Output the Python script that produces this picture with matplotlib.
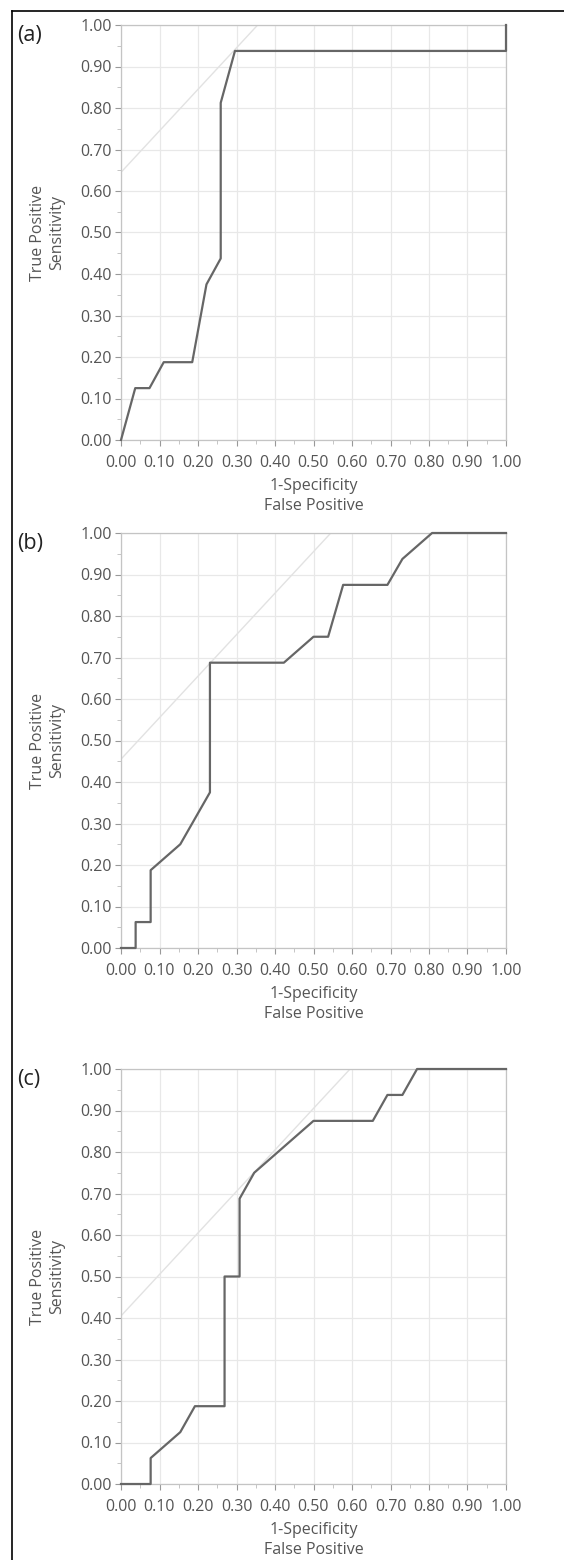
import matplotlib
matplotlib.use("Agg")
import matplotlib.pyplot as plt
from matplotlib.lines import Line2D
from matplotlib.ticker import MultipleLocator, FormatStrFormatter

plt.rcParams['font.family'] = ['Open Sans', 'DejaVu Sans']

# ROC curves (1-specificity, sensitivity)
fpr_a = [0.0, 0.037, 0.074, 0.111, 0.185, 0.222, 0.259, 0.259, 0.296, 1.0, 1.0]
tpr_a = [0.0, 0.125, 0.125, 0.1875, 0.1875, 0.375, 0.4375, 0.8125, 0.9375, 0.9375, 1.0]

fpr_b = [0.0, 0.038, 0.038, 0.077, 0.077, 0.154, 0.231, 0.231, 0.423, 0.5, 0.538,
         0.577, 0.692, 0.731, 0.808, 1.0]
tpr_b = [0.0, 0.0, 0.0625, 0.0625, 0.1875, 0.25, 0.375, 0.6875, 0.6875, 0.75, 0.75,
         0.875, 0.875, 0.9375, 1.0, 1.0]

fpr_c = [0.0, 0.077, 0.077, 0.154, 0.192, 0.269, 0.269, 0.308, 0.308, 0.346, 0.5,
         0.654, 0.692, 0.731, 0.769, 1.0]
tpr_c = [0.0, 0.0, 0.0625, 0.125, 0.1875, 0.1875, 0.5, 0.5, 0.6875, 0.75, 0.875,
         0.875, 0.9375, 0.9375, 1.0, 1.0]

# intercepts of the slope-1 tangent lines
tangent_b0 = [0.645, 0.455, 0.405]
panel_names = ['(a)', '(b)', '(c)']

curves = [(fpr_a, tpr_a), (fpr_b, tpr_b), (fpr_c, tpr_c)]

fig = plt.figure(figsize=(5.64, 15.6), dpi=100)

W, H = 564.0, 1560.0
ax_left, ax_w, ax_h = 121 / W, 385 / W, 415 / H
ax_bottoms = [(H - 440) / H, (H - 948) / H, (H - 1484) / H]

txt_col = '#555555'

for (x, y), b0, name, bottom in zip(curves, tangent_b0, panel_names, ax_bottoms):
    ax = fig.add_axes([ax_left, bottom, ax_w, ax_h])
    ax.set_xlim(0, 1)
    ax.set_ylim(0, 1)
    ax.axline((0, b0), slope=1, color='#e2e2e2', lw=1.0, zorder=1)
    ax.plot(x, y, color='#666666', lw=1.6, zorder=3, clip_on=False)

    ax.xaxis.set_major_locator(MultipleLocator(0.1))
    ax.xaxis.set_minor_locator(MultipleLocator(0.05))
    ax.yaxis.set_major_locator(MultipleLocator(0.1))
    ax.yaxis.set_minor_locator(MultipleLocator(0.05))
    ax.xaxis.set_major_formatter(FormatStrFormatter('%.2f'))
    ax.yaxis.set_major_formatter(FormatStrFormatter('%.2f'))
    ax.grid(True, which='major', color='#e8e8e8', lw=0.9)
    ax.set_axisbelow(True)

    ax.tick_params(which='major', length=4, width=0.8, color='#999999',
                   labelsize=11.5, labelcolor=txt_col)
    ax.tick_params(axis='x', which='major', pad=7)
    ax.tick_params(axis='y', which='major', pad=2.5)
    ax.tick_params(which='minor', length=3, width=0.6, color='#bbbbbb')
    for s in ax.spines.values():
        s.set_color('#c4c4c4')
        s.set_linewidth(0.9)

    ax.text(-0.19, 0.5, 'True Positive\nSensitivity', transform=ax.transAxes,
            rotation=90, ha='center', va='center', fontsize=11.5,
            color=txt_col, linespacing=1.25)
    ax.text(0.5, -0.092, '1-Specificity\nFalse Positive', transform=ax.transAxes,
            ha='center', va='top', fontsize=11.5, color=txt_col, linespacing=1.35)
    ax.text(-0.27, 1.0, name, transform=ax.transAxes, ha='left', va='top',
            fontsize=15.5, color='#222222')

# frame lines at the left and top of the figure
fig.add_artist(Line2D([12 / W, 12 / W], [0, 1 - 11 / H], color='black', lw=1.2))
fig.add_artist(Line2D([12 / W, 1], [1 - 11 / H, 1 - 11 / H], color='black', lw=1.2))

fig.savefig('out.png', dpi=100)
